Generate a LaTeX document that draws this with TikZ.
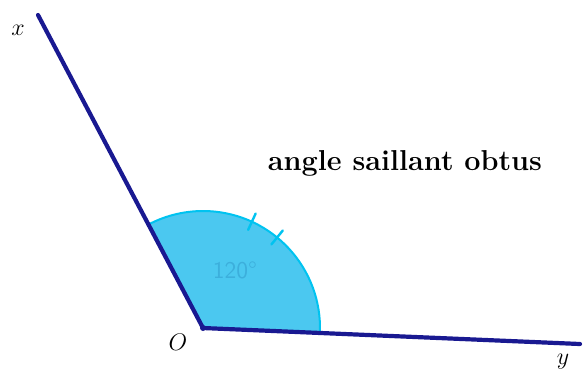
\documentclass[tikz,border=0pt]{standalone}
\usepackage{amsmath,amssymb}
\usepackage{xcolor,tikz}
\usetikzlibrary{arrows.meta,positioning,calc}
\definecolor{raycol}{RGB}{25,25,145}
\definecolor{arcfill}{RGB}{75,200,240}
\definecolor{arcline}{RGB}{0,195,240}
\definecolor{anglab}{RGB}{60,175,220}

\begin{document}
\begin{tikzpicture}[x=.5pt,y=.5pt,line cap=round,
 ray/.style={draw=raycol,line width=2.1pt},
 tick/.style={draw=arcline,line width=1.2pt},
 lab/.style={font=\large}]
 \useasboundingbox (0,0) rectangle (587,372);
 \coordinate (O) at (203,44);
 \coordinate (X) at (38,357);
 \coordinate (Y) at (580,28);
 % secteur de l'angle
 \filldraw[fill=arcfill,draw=arcline,line width=1pt] (O) -- ++(-2.4:117) arc (-2.4:117.8:117) -- cycle;
 \draw[tick] ($(O)+(65.3:108)$) -- ($(O)+(65.3:126)$);
 \draw[tick] ($(O)+(50.7:108)$) -- ($(O)+(50.7:126)$);
 \node[text=anglab,font=\large\sffamily] (deg) at ($(O)+(61:66)$) {120°};
 % demi-droites
 \draw[ray] (O) -- (X);
 \draw[ray] (O) -- (Y);
 \fill[raycol] (O) circle (3);
 \node[lab] (lo) at (178,30) {$O$};
 \node[lab] (lx) at (18,342) {$x$};
 \node[lab] (ly) at (563,10) {$y$};
 \node[font=\Large\bfseries] (titre) at (405,209) {angle saillant obtus};
\end{tikzpicture}
\end{document}
